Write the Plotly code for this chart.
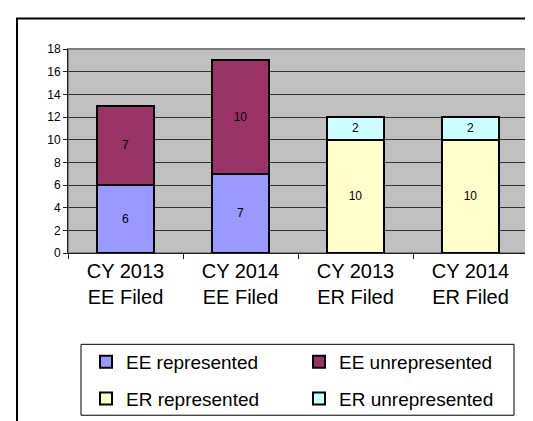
import plotly.graph_objects as go

categories = ["CY 2013<br>EE Filed", "CY 2014<br>EE Filed", "CY 2013<br>ER Filed", "CY 2014<br>ER Filed"]
ee_represented = [6, 7, None, None]
ee_unrepresented = [7, 10, None, None]
er_represented = [None, None, 10, 10]
er_unrepresented = [None, None, 2, 2]
y_ticks = [0, 2, 4, 6, 8, 10, 12, 14, 16, 18]

W, H = 533, 421
L, R, T, B = 60, 13, 41, 170
PW, PH = W - L - R, H - T - B


def px_x(p):
    return (p - L) / PW


def px_y(p):
    return (H - B - p) / PH


FONT = "Liberation Sans, Arial, sans-serif"

series = [
    ("EE represented", ee_represented, "#9999FF", "legend"),
    ("EE unrepresented", ee_unrepresented, "#993366", "legend"),
    ("ER represented", er_represented, "#FFFFCC", "legend2"),
    ("ER unrepresented", er_unrepresented, "#CCFFFF", "legend2"),
]

fig = go.Figure()
for name, vals, color, lg in series:
    fig.add_trace(go.Bar(
        name=name, x=categories, y=vals,
        marker=dict(color=color, line=dict(color="black", width=2)),
        text=[("" if v is None else str(v)) for v in vals],
        textposition="inside", insidetextanchor="middle",
        textfont=dict(size=12, color="black", family=FONT),
        legend=lg,
    ))

legend_common = dict(
    orientation="h", xanchor="left", yanchor="middle",
    font=dict(size=19), bgcolor="rgba(0,0,0,0)", borderwidth=0,
    entrywidth=168, entrywidthmode="pixels", traceorder="normal",
)

fig.update_layout(
    width=W, height=H,
    margin=dict(l=L, r=R, t=T, b=B, pad=0),
    barmode="stack", bargap=0.5,
    paper_bgcolor="white", plot_bgcolor="#C0C0C0",
    font=dict(family=FONT, color="black"),
    xaxis=dict(
        showline=True, linecolor="#222222", linewidth=1,
        ticks="outside", tickson="boundaries", ticklen=5, tickcolor="#222222",
        tickfont=dict(size=20, color="black"),
        showgrid=False,
    ),
    yaxis=dict(
        range=[0, 18], tickvals=y_ticks,
        showline=True, linecolor="#222222", linewidth=1,
        ticks="outside", ticklen=4, tickcolor="#222222",
        tickfont=dict(size=12, color="black"),
        showgrid=True, gridcolor="#333333", gridwidth=1,
        zeroline=False,
    ),
    legend=dict(x=px_x(78), y=px_y(363), **legend_common),
    legend2=dict(x=px_x(78), y=px_y(401), **legend_common),
    shapes=[
        # plot area border
        dict(type="rect", xref="x domain", yref="y domain", x0=0, x1=1, y0=0, y1=1,
             line=dict(color="#808080", width=2), layer="below"),
        # legend box
        dict(type="rect", xref="paper", yref="paper",
             x0=px_x(73), x1=px_x(506), y0=px_y(418), y1=px_y(345),
             line=dict(color="black", width=1), fillcolor="rgba(0,0,0,0)"),
        # outer chart frame
        dict(type="rect", xref="paper", yref="paper",
             x0=px_x(9), x1=px_x(545), y0=px_y(440), y1=px_y(9.5),
             line=dict(color="black", width=2), fillcolor="rgba(0,0,0,0)"),
    ],
)

fig.write_html("out.html")
